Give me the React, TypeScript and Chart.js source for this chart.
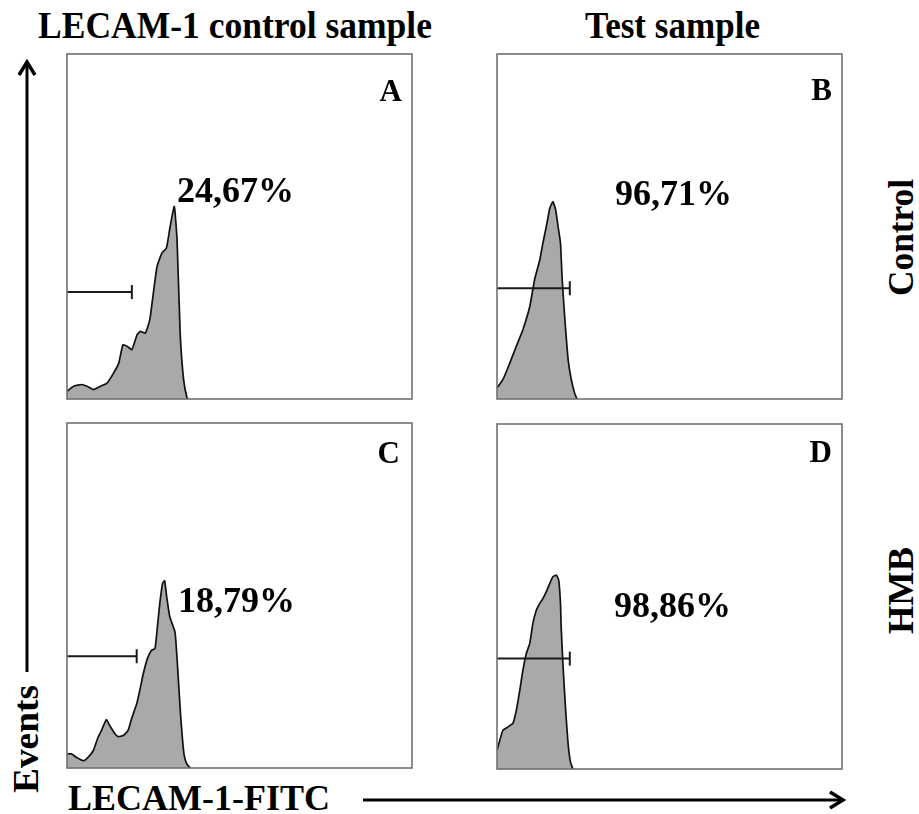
import React, { useEffect, useRef } from "react";
import { Chart, registerables } from "chart.js";

Chart.register(...registerables);

const FONT = '"Liberation Serif", "Times New Roman", serif';

// ---- Data (x = relative LECAM-1-FITC channel 0..100, y = relative events 0..100) ----
const channelA = [0, 1.9, 4.3, 5.8, 7.7, 9.7, 11.6, 13.5, 15.0, 16.2, 17.4, 18.8, 20.3, 21.3, 22.7, 24.0, 24.9, 26.1, 27.5, 28.8, 29.9, 31.1, 31.9, 32.8, 33.8, 34.8, 35.3];
const eventsA = [2.2, 3.7, 4.2, 3.7, 2.7, 3.7, 4.6, 7.5, 10.4, 15.7, 15.3, 14.3, 18.6, 19.6, 19.1, 23.0, 29.7, 38.4, 42.3, 43.7, 50.0, 55.8, 46.1, 19.1, 5.6, 0.3, 0];

const channelB = [0, 1.7, 3.7, 5.6, 7.5, 9.5, 10.9, 12.4, 13.3, 14.3, 15.3, 16.2, 17.0, 17.7, 18.4, 18.9, 19.6, 20.6, 21.5, 22.5, 23.2];
const eventsB = [3.2, 5.6, 10.4, 15.3, 20.1, 26.8, 34.6, 40.3, 45.2, 50.0, 55.3, 57.2, 54.8, 50.0, 45.2, 34.6, 24.1, 11.6, 5.8, 1.7, 0];

const channelC = [0, 1.3, 2.7, 4.7, 6.1, 7.6, 9.0, 10.0, 11.4, 12.4, 13.9, 14.8, 16.3, 17.7, 18.7, 20.2, 21.1, 22.1, 23.3, 24.5, 25.5, 26.2, 26.9, 27.7, 28.3, 28.9, 29.8, 31.3, 32.0, 32.9, 33.9, 34.7, 35.7];
const eventsC = [4.1, 4.1, 3.1, 2.1, 3.1, 5.0, 8.9, 10.9, 14.0, 12.3, 9.9, 9.1, 9.4, 10.9, 14.2, 18.6, 22.5, 27.3, 31.7, 34.1, 34.6, 40.9, 47.7, 53.5, 54.3, 49.6, 43.8, 39.4, 30.2, 15.7, 4.1, 1.2, 0];

const channelD = [0, 0.8, 1.7, 3.2, 4.6, 5.6, 6.6, 7.5, 8.5, 9.5, 10.4, 11.4, 12.4, 13.3, 14.3, 15.3, 16.2, 17.2, 17.9, 18.4, 18.6, 19.1, 19.9, 20.6, 21.3, 22.0];
const eventsD = [5.4, 8.3, 11.2, 12.2, 13.2, 17.0, 22.8, 28.6, 33.5, 36.4, 42.2, 46.0, 48.0, 49.4, 51.4, 53.8, 55.7, 56.2, 54.7, 48.0, 41.2, 30.6, 17.0, 7.4, 2.0, 0];

const gateEnd = [18.8, 21.1, 20.2, 21.1];
const gateLevel = [31.0, 32.1, 32.4, 32.0];
const percentLabels = ["24,67%", "96,71%", "18,79%", "98,86%"];
const panelLetters = ["A", "B", "C", "D"];

const columnTitles = ["LECAM-1 control sample", "Test sample"];
const rowTitles = ["Control", "HMB"];
const xAxisTitle = "LECAM-1-FITC";
const yAxisTitle = "Events";

// ---- Layout (pixels) ----
const PANEL = 345;
const PAD = 5;
const panelLayout = [
  { left: 67, top: 54, pctX: 31.9, pctY: 57.1, letX: 97.1, letY: 86.4 },
  { left: 497, top: 54, pctX: 34.2, pctY: 56.2, letX: 97.1, letY: 86.7 },
  { left: 67, top: 423, pctX: 32.2, pctY: 45.2, letX: 96.5, letY: 88.4 },
  { left: 497, top: 424, pctX: 33.9, pctY: 44.1, letX: 97.1, letY: 89.0 },
];

const seriesX = [channelA, channelB, channelC, channelD];
const seriesY = [eventsA, eventsB, eventsC, eventsD];

const decorPlugin = {
  id: "panelDecor",
  afterDatasetsDraw(chart: any, _args: any, opts: any) {
    const { ctx, chartArea: a, scales } = chart;
    const x = scales.x;
    const y = scales.y;
    ctx.save();
    ctx.strokeStyle = "#707070";
    ctx.lineWidth = 1.6;
    ctx.strokeRect(a.left, a.top, a.right - a.left, a.bottom - a.top);
    ctx.fillStyle = "#000";
    ctx.textBaseline = "alphabetic";
    ctx.font = `bold 36px ${FONT}`;
    ctx.textAlign = "left";
    ctx.fillText(opts.pct, x.getPixelForValue(opts.pctX), y.getPixelForValue(opts.pctY));
    ctx.font = `bold 31px ${FONT}`;
    ctx.textAlign = "right";
    ctx.fillText(opts.letter, x.getPixelForValue(opts.letX), y.getPixelForValue(opts.letY));
    ctx.restore();
  },
};

function Panel({ index }: { index: number }) {
  const ref = useRef<HTMLCanvasElement | null>(null);
  const lay = panelLayout[index];
  useEffect(() => {
    if (!ref.current) return;
    const xs = seriesX[index];
    const ys = seriesY[index];
    const hist = xs.map((v, i) => ({ x: v, y: ys[i] }));
    const chart = new Chart(ref.current, {
      type: "line",
      data: {
        datasets: [
          {
            data: [
              { x: 0, y: gateLevel[index] },
              { x: gateEnd[index], y: gateLevel[index] },
            ],
            borderColor: "#1a1a1a",
            borderWidth: 2,
            pointRadius: [0, 7] as any,
            pointStyle: "line",
            rotation: 90,
            pointBorderWidth: 2,
            pointBorderColor: "#1a1a1a",
            fill: false,
            order: 0,
          } as any,
          {
            data: hist,
            borderColor: "#111",
            borderWidth: 1.7,
            backgroundColor: "#a9a9a9",
            fill: "origin",
            pointRadius: 0,
            tension: 0.15,
            order: 1,
          } as any,
        ],
      },
      options: {
        animation: false,
        responsive: false,
        layout: { padding: PAD, autoPadding: false } as any,
        plugins: {
          legend: { display: false },
          tooltip: { enabled: false },
          panelDecor: {
            pct: percentLabels[index],
            letter: panelLetters[index],
            pctX: lay.pctX,
            pctY: lay.pctY,
            letX: lay.letX,
            letY: lay.letY,
          },
        } as any,
        scales: {
          x: { type: "linear", min: 0, max: 100, display: false },
          y: { type: "linear", min: 0, max: 100, display: false },
        },
      },
      plugins: [decorPlugin],
    });
    return () => chart.destroy();
  }, [index]);
  return (
    <canvas
      ref={ref}
      width={PANEL + 2 * PAD}
      height={PANEL + 2 * PAD}
      style={{ position: "absolute", left: lay.left - PAD, top: lay.top - PAD }}
    />
  );
}

export default function App() {
  const textStyle = { fontFamily: FONT, fontWeight: 700 as const, fill: "#000" };
  return (
    <div style={{ position: "fixed", left: 0, top: 0, width: 919, height: 814, background: "#fff", overflow: "hidden" }}>
      <svg width={919} height={814} style={{ position: "absolute", left: 0, top: 0 }}>
        <text x={38} y={38} fontSize={37} textLength={394} lengthAdjust="spacingAndGlyphs" style={textStyle}>
          {columnTitles[0]}
        </text>
        <text x={585} y={38} fontSize={37} textLength={175} lengthAdjust="spacingAndGlyphs" style={textStyle}>
          {columnTitles[1]}
        </text>
        <text transform="translate(913,238) rotate(-90)" x={-58} y={0} fontSize={36} textLength={117} lengthAdjust="spacingAndGlyphs" style={textStyle}>
          {rowTitles[0]}
        </text>
        <text transform="translate(913,591) rotate(-90)" x={-43} y={0} fontSize={36} textLength={87} lengthAdjust="spacingAndGlyphs" style={textStyle}>
          {rowTitles[1]}
        </text>
        <text transform="translate(38,739) rotate(-90)" x={-54} y={0} fontSize={36} textLength={108} lengthAdjust="spacingAndGlyphs" style={textStyle}>
          {yAxisTitle}
        </text>
        <text x={68} y={810} fontSize={36} textLength={262} lengthAdjust="spacingAndGlyphs" style={textStyle}>
          {xAxisTitle}
        </text>
        <line x1={27} y1={672} x2={27} y2={64} stroke="#000" strokeWidth={3} />
        <polyline points="19,75 27,62 35,75" fill="none" stroke="#000" strokeWidth={3.5} />
        <line x1={363} y1={800} x2={841} y2={800} stroke="#000" strokeWidth={3} />
        <polyline points="830,792 843,800 830,808" fill="none" stroke="#000" strokeWidth={3.5} />
      </svg>
      {[0, 1, 2, 3].map((i) => (
        <Panel key={i} index={i} />
      ))}
    </div>
  );
}
